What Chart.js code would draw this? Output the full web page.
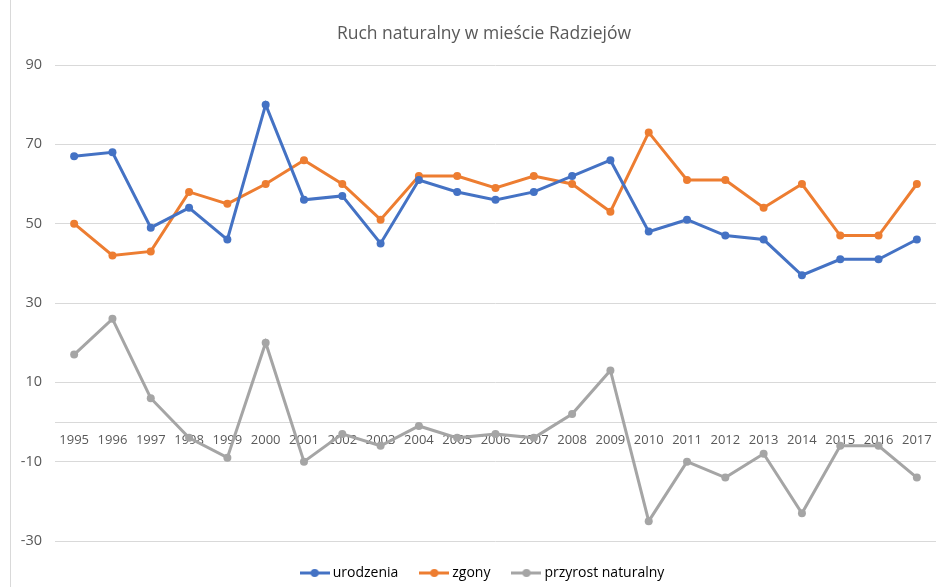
<!DOCTYPE html>
<html>
<head>
<meta charset="utf-8">
<script src="https://cdn.jsdelivr.net/npm/chart.js@4/dist/chart.umd.min.js"></script>
<style>
    html, body { margin: 0; padding: 0; background: #fff; }
    #wrap { position: relative; width: 940px; height: 587px; }
    #frame { position: absolute; left: 10px; top: 0; width: 1px; height: 587px; background: #d9d9d9; }
</style>
</head>
<body>
<div id="wrap">
    <div id="frame"></div>
    <canvas id="chart" width="940" height="587"></canvas>
</div>
<script>
// Data
const years = ['1995', '1996', '1997', '1998', '1999', '2000', '2001', '2002', '2003', '2004', '2005', '2006',
    '2007', '2008', '2009', '2010', '2011', '2012', '2013', '2014', '2015', '2016', '2017'];
const urodzenia = [67, 68, 49, 54, 46, 80, 56, 57, 45, 61, 58, 56, 58, 62, 66, 48, 51, 47, 46, 37, 41, 41, 46];
const zgony = [50, 42, 43, 58, 55, 60, 66, 60, 51, 62, 62, 59, 62, 60, 53, 73, 61, 61, 54, 60, 47, 47, 60];
const przyrost = [17, 26, 6, -4, -9, 20, -10, -3, -6, -1, -4, -3, -4, 2, 13, -25, -10, -14, -8, -23, -6, -6, -14];

const FONT = "'Open Sans', 'Liberation Sans', sans-serif";
const TEXT_COLOR = '#595959';
const GRID_COLOR = '#d9d9d9';

// Legend marker: short line with a dot in the middle, like Excel
const legendMarker = (color) => {
    const c = document.createElement('canvas');
    c.width = 30;
    c.height = 10;
    const g = c.getContext('2d');
    g.strokeStyle = color;
    g.lineWidth = 3;
    g.beginPath();
    g.moveTo(0, 5);
    g.lineTo(30, 5);
    g.stroke();
    g.fillStyle = color;
    g.beginPath();
    g.arc(15, 5, 4, 0, Math.PI * 2);
    g.fill();
    return c;
};

const makeSeries = (label, data, color) => ({
    label: label,
    data: data,
    borderColor: color,
    backgroundColor: color,
    borderWidth: 3,
    pointRadius: 4,
    pointHoverRadius: 4,
    pointBorderWidth: 0,
    tension: 0
});

new Chart(document.getElementById('chart').getContext('2d'), {
    type: 'line',
    data: {
        labels: years,
        datasets: [
            makeSeries('urodzenia', urodzenia, '#4472c4'),
            makeSeries('zgony', zgony, '#ed7d31'),
            makeSeries('przyrost naturalny', przyrost, '#a5a5a5')
        ]
    },
    options: {
        responsive: false,
        animation: false,
        layout: {
            padding: { left: 30, right: 2, top: 23, bottom: -3 }
        },
        plugins: {
            title: {
                display: true,
                text: 'Ruch naturalny w mieście Radziejów',
                color: TEXT_COLOR,
                font: { family: FONT, size: 17.5, weight: 'normal' },
                padding: { top: 1, bottom: 20 }
            },
            legend: {
                position: 'bottom',
                labels: {
                    color: TEXT_COLOR,
                    font: { family: FONT, size: 14 },
                    usePointStyle: true,
                    pointStyleWidth: 22,
                    padding: 25,
                    generateLabels: (chart) => chart.data.datasets.map((ds, i) => ({
                        text: ds.label,
                        fillStyle: ds.borderColor,
                        strokeStyle: ds.borderColor,
                        lineWidth: 0,
                        pointStyle: legendMarker(ds.borderColor),
                        hidden: false,
                        datasetIndex: i
                    }))
                }
            },
            tooltip: { enabled: false }
        },
        scales: {
            x: {
                position: { y: 0 },
                offset: true,
                grid: { display: false, drawTicks: false },
                border: { display: true, color: GRID_COLOR, width: 1 },
                ticks: {
                    color: TEXT_COLOR,
                    font: { family: FONT, size: 13 },
                    padding: 10,
                    maxRotation: 0,
                    autoSkip: false
                },
                afterFit: (scale) => {
                    scale.paddingLeft = 0;
                    scale.paddingRight = 0;
                }
            },
            y: {
                min: -30,
                max: 90,
                grid: { color: GRID_COLOR, drawTicks: false },
                border: { display: false },
                ticks: {
                    stepSize: 20,
                    color: TEXT_COLOR,
                    font: { family: FONT, size: 14.5 },
                    padding: 13
                },
                afterFit: (scale) => {
                    // narrow axis box so the title centres like the original; labels may spill left
                    scale.width = 25;
                    scale._computeLabelArea = () => undefined;
                }
            }
        }
    }
});
</script>
</body>
</html>
